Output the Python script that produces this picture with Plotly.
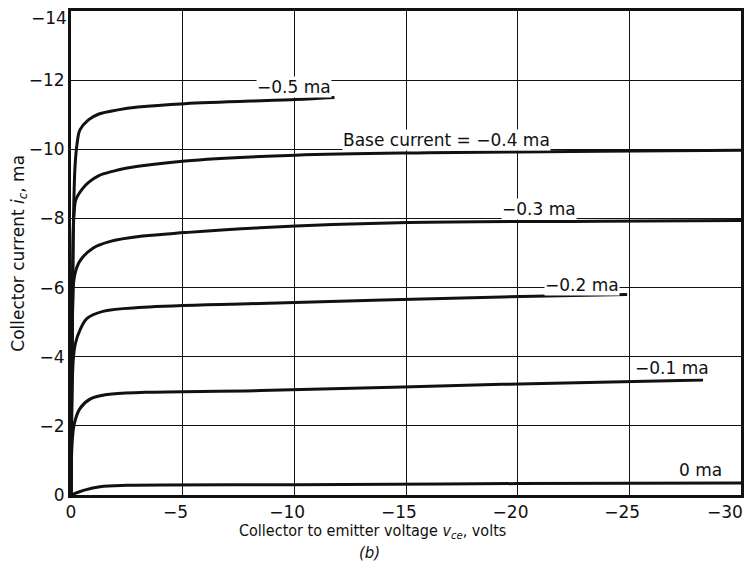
import plotly.graph_objects as go

# ---- data ----
v_00 = [0, -0.6, -1.3, -2.5, -10, -20, -30]
i_00 = [0, -0.14, -0.24, -0.28, -0.30, -0.33, -0.35]

v_01 = [0, -0.05, -0.15, -0.4, -0.87, -1.63, -3.3, -8.5, -19.3, -28.3]
i_01 = [0, -1.5, -2.07, -2.5, -2.78, -2.91, -2.97, -3.02, -3.2, -3.33]

v_02 = [0, -0.1, -0.2, -0.4, -0.72, -1.47, -3.25, -8.45, -19.3, -24.9]
i_02 = [0, -3.9, -4.39, -4.77, -5.11, -5.32, -5.43, -5.54, -5.73, -5.8]

v_03 = [0, -0.08, -0.15, -0.38, -0.98, -1.72, -3.22, -5.1, -8.45, -15.1, -23.7, -30]
i_03 = [0, -5.6, -6.31, -6.75, -7.14, -7.33, -7.49, -7.59, -7.73, -7.88, -7.92, -7.94]

v_04 = [0, -0.1, -0.14, -0.21, -0.5, -0.8, -1.25, -1.85, -2.45, -5.1, -10.05, -16, -23.7, -30]
i_04 = [0, -7.6, -8.15, -8.53, -8.85, -9.05, -9.24, -9.36, -9.45, -9.66, -9.83, -9.9, -9.94, -9.97]

v_05 = [0, -0.1, -0.18, -0.28, -0.4, -0.78, -1.25, -2.1, -3.0, -5.1, -10.0, -11.8]
i_05 = [0, -7.5, -9.5, -10.2, -10.56, -10.85, -11.02, -11.14, -11.22, -11.32, -11.44, -11.5]

curves = [(v_00, i_00), (v_01, i_01), (v_02, i_02), (v_03, i_03), (v_04, i_04), (v_05, i_05)]

label_text = ["0 ma", "\u22120.1 ma", "\u22120.2 ma", "\u22120.3 ma",
              "Base current = \u22120.4 ma", "\u22120.5 ma"]
label_v = [-28.2, -26.9, -22.87, -20.95, -16.8, -10.0]
label_i = [-0.72, -3.68, -6.07, -8.26, -10.27, -11.79]

x_tickvals = [0, -5, -10, -15, -20, -25, -30]
x_ticktext = ["0", "\u22125", "\u221210", "\u221215", "\u221220", "\u221225", "\u221230"]
y_tickvals = [0, -2, -4, -6, -8, -10, -12, -14]
y_ticktext = ["0", "\u22122", "\u22124", "\u22126", "\u22128", "\u221210", "\u221212", "\u221214"]

x_title = "Collector to emitter voltage <i>v</i><sub><i>ce</i></sub>, volts"
y_title = "Collector current <i>i</i><sub><i>c</i></sub>, ma"
sub_title = "<i>(b)</i>"

FONT = "DejaVu Sans, Liberation Sans, Arial, sans-serif"
FONT_C = "DejaVu Sans Condensed, Liberation Sans Narrow, DejaVu Sans, sans-serif"
INK = "#111111"

fig = go.Figure()
for vx, iy in curves:
    fig.add_trace(go.Scatter(x=vx, y=iy, mode="lines",
                             line=dict(color=INK, width=3, shape="spline", smoothing=1.0),
                             showlegend=False, hoverinfo="skip"))

# pad negative x tick labels so the digits sit centred on the gridline;
# the last one sits at the page edge and is drawn as an annotation instead
x_ticktext_axis = []
for k, t in enumerate(x_ticktext):
    if k == len(x_ticktext) - 1:
        x_ticktext_axis.append("")
    elif t.startswith("\u2212"):
        x_ticktext_axis.append(t + "\u2007\u2009")
    else:
        x_ticktext_axis.append(t)

# the top y label would be clipped at the page edge: draw it as an annotation just below
y_ticktext_axis = y_ticktext[:-1] + [""]

fig.update_xaxes(range=[0, -30], tickvals=x_tickvals, ticktext=x_ticktext_axis,
                 showgrid=True, gridcolor=INK, gridwidth=1.3, zeroline=False,
                 showline=True, linecolor=INK, linewidth=2.5, mirror=True,
                 ticks="", automargin=False, ticklabeloverflow="allow",
                 tickfont=dict(family=FONT, size=17, color=INK))
fig.update_yaxes(range=[0, -14], tickvals=y_tickvals, ticktext=y_ticktext_axis,
                 showgrid=True, gridcolor=INK, gridwidth=1.3, zeroline=False,
                 showline=True, linecolor=INK, linewidth=3, mirror=True,
                 ticks="", automargin=False, ticklabeloverflow="allow",
                 tickfont=dict(family=FONT, size=17, color=INK))

fig.add_annotation(xref="paper", yref="y", x=0, y=y_tickvals[-1], text=y_ticktext[-1],
                   showarrow=False, xanchor="right", yanchor="middle",
                   xshift=-3, yshift=-7, borderpad=0,
                   font=dict(family=FONT, size=17, color=INK))
fig.add_annotation(xref="x", yref="paper", x=x_tickvals[-1], y=0, text=x_ticktext[-1],
                   showarrow=False, xanchor="right", yanchor="top",
                   xshift=3, yshift=-6, borderpad=0,
                   font=dict(family=FONT, size=17, color=INK))

for t, vx, iy in zip(label_text, label_v, label_i):
    fig.add_annotation(x=vx, y=iy, text=t, showarrow=False, bgcolor="white",
                       borderpad=0, font=dict(family=FONT, size=17, color=INK),
                       xanchor="center", yanchor="middle")

fig.add_annotation(xref="paper", yref="paper", x=0.45, y=-0.0744, text=x_title,
                   showarrow=False, xanchor="center", yanchor="middle",
                   font=dict(family=FONT_C, size=16, color=INK))
fig.add_annotation(xref="paper", yref="paper", x=0.446, y=-0.1198, text=sub_title,
                   showarrow=False, xanchor="center", yanchor="middle",
                   font=dict(family=FONT, size=15, color=INK))
fig.add_annotation(xref="paper", yref="paper", x=-0.078, y=0.5, text=y_title,
                   textangle=-90, showarrow=False, xanchor="center", yanchor="middle",
                   font=dict(family=FONT, size=17, color=INK))

# the page body adds an 8 px margin, so the figure is kept inside the window without scrolling
fig.update_layout(width=737, height=555, margin=dict(l=63, r=4, t=3, b=68),
                  paper_bgcolor="white", plot_bgcolor="white")

fig.write_html("out.html")
